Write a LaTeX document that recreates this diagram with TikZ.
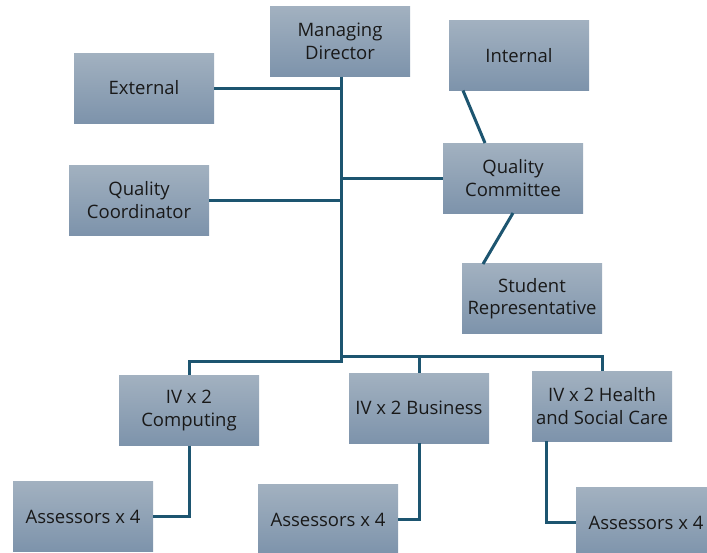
\documentclass[tikz,border=0pt]{standalone}
\usepackage{fontspec}
\setmainfont{Open Sans}
\definecolor{boxtop}{HTML}{A2B1C0}
\definecolor{boxbot}{HTML}{7D93AB}
\definecolor{linec}{HTML}{1D5570}
\begin{document}
\begin{tikzpicture}[x=1pt,y=-1pt,
  orgbox/.style={rectangle,minimum width=140pt,minimum height=70pt,inner sep=0pt,
    top color=boxtop,bottom color=boxbot,draw=none,align=center,
    font=\fontsize{18.5}{22.5}\selectfont,text=black!90},
  conn/.style={draw=linec,line width=3pt}]
\useasboundingbox (0,0) rectangle (707,552);
\node[orgbox] (md) at (340,41.5) {Managing\\Director};
\node[orgbox] (int) at (519,55.5) {Internal};
\node[orgbox] (ext) at (144,88) {External};
\node[orgbox] (qco) at (139,200) {Quality\\Coordinator};
\node[orgbox] (qcm) at (513,178) {Quality\\Committee};
\node[orgbox] (stu) at (532,298.5) {Student\\Representative};
\node[orgbox] (ivc) at (189,410.5) {IV x 2\\Computing};
\node[orgbox] (ivb) at (419,408) {IV x 2 Business};
\node[orgbox] (ivh) at (602,406) {IV x 2 Health\\and Social Care};
\node[orgbox] (asl) at (83,516.5) {Assessors x 4};
\node[orgbox] (asm) at (328,519.5) {Assessors x 4};
\node[orgbox] (asr) at (646,522.5) {Assessors x 4};
\coordinate (tb) at (341,361);
\coordinate (tr) at (341,356);
\draw[conn] (md.south -| tb) -- (tb) -- (tb -| ivc.north) -- (ivc.north);
\draw[conn] (tr) -- (tr -| ivh.north) -- (ivh.north);
\draw[conn] (tr -| ivb.north) -- (ivb.north);
\draw[conn] (ext.east) -- (ext.east -| tb);
\draw[conn] (qco.east) -- (qco.east -| tb);
\draw[conn] (tb |- qcm.west) -- (qcm.west);
\draw[conn] (463,90.5) -- (485,143);
\draw[conn] (513,213) -- (483,264);
\draw[conn] (ivc.south) -- (ivc.south |- asl.east) -- (asl.east);
\draw[conn] (ivb.south) -- (ivb.south |- asm.east) -- (asm.east);
\coordinate (hx) at (546,441);
\draw[conn] (hx) -- (hx |- asr.west) -- (asr.west);
\end{tikzpicture}
\end{document}
